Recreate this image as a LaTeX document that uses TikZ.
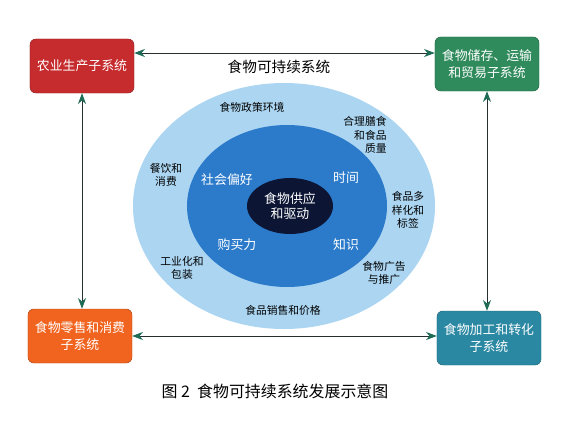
\documentclass[tikz,border=0pt]{standalone}
\usepackage{fontspec}
\setmainfont{Noto Sans CJK SC}
\usetikzlibrary{arrows.meta,shapes.geometric}
\definecolor{agrired}{HTML}{C62B2E}
\definecolor{storegreen}{HTML}{2F8A5C}
\definecolor{retailorange}{HTML}{F0641F}
\definecolor{procteal}{HTML}{2A88A3}
\definecolor{outerblue}{HTML}{ABD5F1}
\definecolor{midblue}{HTML}{2C7BCB}
\definecolor{corenavy}{HTML}{0C1634}
\definecolor{arrline}{HTML}{26302E}
\definecolor{arrtip}{HTML}{1E6B56}

\begin{document}
\begin{tikzpicture}[x=0.03cm, y=-0.03cm,
    box/.style={draw=#1!75!black, fill=#1, rounded corners=5pt, minimum width=3.12cm, minimum height=1.62cm,
      align=center, text=white, inner sep=2pt, font=\fontsize{11}{14}\selectfont},
    ring/.style={ellipse, draw=none, fill=#1, inner sep=0pt},
    outlab/.style={align=center, font=\fontsize{9.2}{11.5}\selectfont},
    inlab/.style={text=white, font=\fontsize{11}{13}\selectfont},
    biarr/.style={{Stealth[length=3.2mm, width=2.4mm, inset=1mm, color=arrtip]}-{Stealth[length=3.2mm, width=2.4mm, inset=1mm, color=arrtip]},
      draw=arrline, line width=0.8pt}
  ]
    \useasboundingbox[fill=white] (0,0) rectangle (576,421);
    \node[box=agrired] (agri) at (82,66) {农业生产子系统};
    \node[box=storegreen] (store) at (487,64) {食物储存、运输\\和贸易子系统};
    \node[box=retailorange] (retail) at (80,336) {食物零售和消费\\子系统};
    \node[box=procteal] (proc) at (489,338) {食物加工和转化\\子系统};
    \draw[biarr] ([yshift=0.39cm]agri.east) -- ([yshift=0.39cm]agri.east -| store.west);
    \draw[biarr] (retail.east) -- (retail.east -| proc.west);
    \draw[biarr] (agri.south) -- (agri.south |- retail.north);
    \draw[biarr] (store.south) -- (store.south |- proc.north);
    \node[font=\fontsize{12.5}{15}\selectfont] (title) at (279,67) {食物可持续系统};
    \node[ring=outerblue, minimum width=9.06cm, minimum height=7.38cm] (outer) at (284,206) {};
    \node[ring=midblue, minimum width=6cm, minimum height=4.86cm] (mid) at (287,206) {};
    \node[ring=corenavy, minimum width=2.58cm, minimum height=1.68cm, text=white, align=center,
      font=\fontsize{11}{13.5}\selectfont] (core) at (290,206) {食物供应\\和驱动};
    \node[outlab] (policy) at (252,107) {食物政策环境};
    \node[outlab, align=right] (diet) at (365,135) {合理膳食\\和食品\\质量};
    \node[outlab] (catering) at (166,175) {餐饮和\\消费};
    \node[outlab] (variety) at (408,210) {食品多\\样化和\\标签};
    \node[outlab] (industry) at (182,268) {工业化和\\包装};
    \node[outlab] (advert) at (384,273) {食物广告\\与推广};
    \node[outlab] (sales) at (283,310) {食品销售和价格};
    \node[inlab] (social) at (227,180) {社会偏好};
    \node[inlab] (time) at (346,178) {时间};
    \node[inlab] (power) at (237,245) {购买力};
    \node[inlab] (know) at (346,245) {知识};
    \node[font=\fontsize{13.6}{16}\selectfont] (caption) at (275,391) {图 2\ \ 食物可持续系统发展示意图};
  \end{tikzpicture}
\end{document}
